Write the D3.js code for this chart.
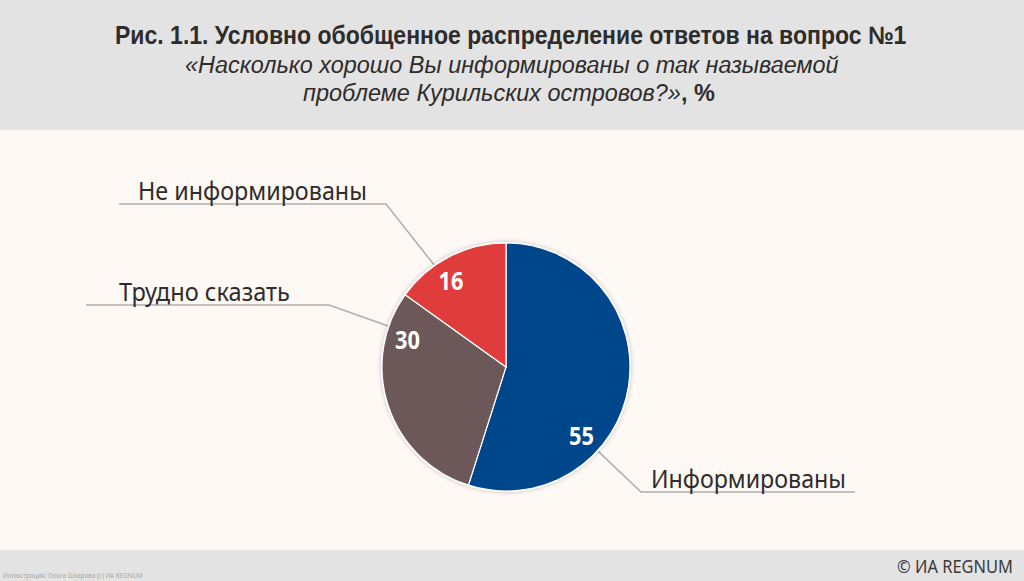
<!DOCTYPE html>
<html lang="ru">
<head>
<meta charset="utf-8">
<script src="https://cdn.jsdelivr.net/npm/d3@7"></script>
<style>
html, body { margin: 0; padding: 0; background: #fef9f5; overflow: hidden; }
svg { display: block; }
</style>
</head>
<body>
<svg id="chart" width="1024" height="581"></svg>
<script>
const categories = ["Информированы", "Трудно сказать", "Не информированы"];
const valueLabels = [55, 30, 16];
const sliceShares = [54.9, 30.0, 15.1];
const colors = ["#00468b", "#6c5759", "#e03c3c"];

const width = 1024, height = 581;
const cx = 506, cy = 367, radius = 124;

const svg = d3.select("#chart");
const sans = "'Noto Sans', 'Open Sans', sans-serif";
const headFont = "'Liberation Sans', sans-serif";

// squeeze a text to the width it has in the picture (the original face is narrower)
function fitWidth(sel, x, y, w) {
    const natural = sel.node().getComputedTextLength();
    sel.attr("transform", `translate(${x},${y}) scale(${w / natural},1)`);
}

// bands
svg.append("rect").attr("width", width).attr("height", 130).attr("fill", "#e3e3e3");
svg.append("rect").attr("y", 130).attr("width", width).attr("height", 420).attr("fill", "#fef9f5");
svg.append("rect").attr("y", 550).attr("width", width).attr("height", 31).attr("fill", "#e3e3e3");

// titles
const title = svg.append("text")
    .attr("font-family", headFont).attr("font-weight", "bold")
    .attr("font-size", "25px").attr("fill", "#2f2c2c")
    .text("Рис. 1.1. Условно обобщенное распределение ответов на вопрос №1");
fitWidth(title, 115, 44, 792);

const sub1 = svg.append("text")
    .attr("font-family", headFont).attr("font-style", "italic")
    .attr("font-size", "24px").attr("fill", "#2f2c2c")
    .text("«Насколько хорошо Вы информированы о так называемой");
fitWidth(sub1, 185, 73, 654);

const sub2 = svg.append("text")
    .attr("font-family", headFont).attr("font-size", "24px").attr("fill", "#2f2c2c");
sub2.append("tspan").attr("font-style", "italic").text("проблеме Курильских островов?»");
sub2.append("tspan").attr("font-weight", "bold").text(", %");
fitWidth(sub2, 303, 101, 412);

// pie
const pie = d3.pie().sort(null)(sliceShares);
const arc = d3.arc().innerRadius(0).outerRadius(radius);

const defs = svg.append("defs");
const shadow = defs.append("filter").attr("id", "pieShadow")
    .attr("x", "-10%").attr("y", "-10%").attr("width", "120%").attr("height", "120%");
shadow.append("feDropShadow")
    .attr("dx", 0).attr("dy", 0).attr("stdDeviation", 2)
    .attr("flood-color", "#000").attr("flood-opacity", 0.25);

// leader lines: how far along the slice they start, then elbow and end of the shelf
const leaderAt = [0.67, 0.848, 0.354];
const elbows = [[641, 492], [329, 305], [386, 204]];
const shelfEnds = [855, 86, 119];
const labelPos = [[651, 488], [119, 301], [138, 200]];
const labelLen = [195, 171, 229];
const valueAt = [0.669, 0.81, 0.4];

const along = (d, t) => d.startAngle + (d.endAngle - d.startAngle) * t;

svg.append("g").selectAll("path")
    .data(pie)
    .join("path")
    .attr("fill", "none")
    .attr("stroke", "#aeaeae")
    .attr("stroke-width", 1.5)
    .attr("d", (d, i) => {
        const p = d3.pointRadial(along(d, leaderAt[i]), radius);
        return d3.line()([[cx + p[0], cy + p[1]], elbows[i], [shelfEnds[i], elbows[i][1]]]);
    });

const g = svg.append("g").attr("transform", `translate(${cx},${cy})`);
g.append("circle").attr("r", radius + 1).attr("fill", "#fff").attr("filter", "url(#pieShadow)");
g.selectAll("path")
    .data(pie)
    .join("path")
    .attr("d", arc)
    .attr("fill", (d, i) => colors[i])
    .attr("stroke", "#fff")
    .attr("stroke-width", 1.2);

// values on slices
g.selectAll("text")
    .data(pie)
    .join("text")
    .attr("font-family", sans)
    .attr("font-weight", "bold")
    .attr("font-size", "25px")
    .attr("fill", "#fff")
    .text((d, i) => valueLabels[i])
    .each(function(d, i) {
        const p = d3.pointRadial(along(d, valueAt[i]), 102);
        fitWidth(d3.select(this), p[0] - 12.5, p[1] + 9, 25);
    });

// category labels
svg.append("g").selectAll("text")
    .data(categories)
    .join("text")
    .attr("font-family", sans)
    .attr("font-size", "25px")
    .attr("fill", "#2f2c2c")
    .text(d => d)
    .each(function(d, i) {
        fitWidth(d3.select(this), labelPos[i][0], labelPos[i][1], labelLen[i]);
    });

// footer
const credit = svg.append("text")
    .attr("font-family", sans).attr("font-size", "18px").attr("fill", "#3a3a3a")
    .text("© ИА REGNUM");
fitWidth(credit, 897, 573, 116);

const note = svg.append("text")
    .attr("font-family", sans).attr("font-size", "6.5px").attr("fill", "#a8a8a8")
    .text("Иллюстрация: Ольга Шкарова (c) ИА REGNUM");
fitWidth(note, 3, 578, 140);
</script>
</body>
</html>
